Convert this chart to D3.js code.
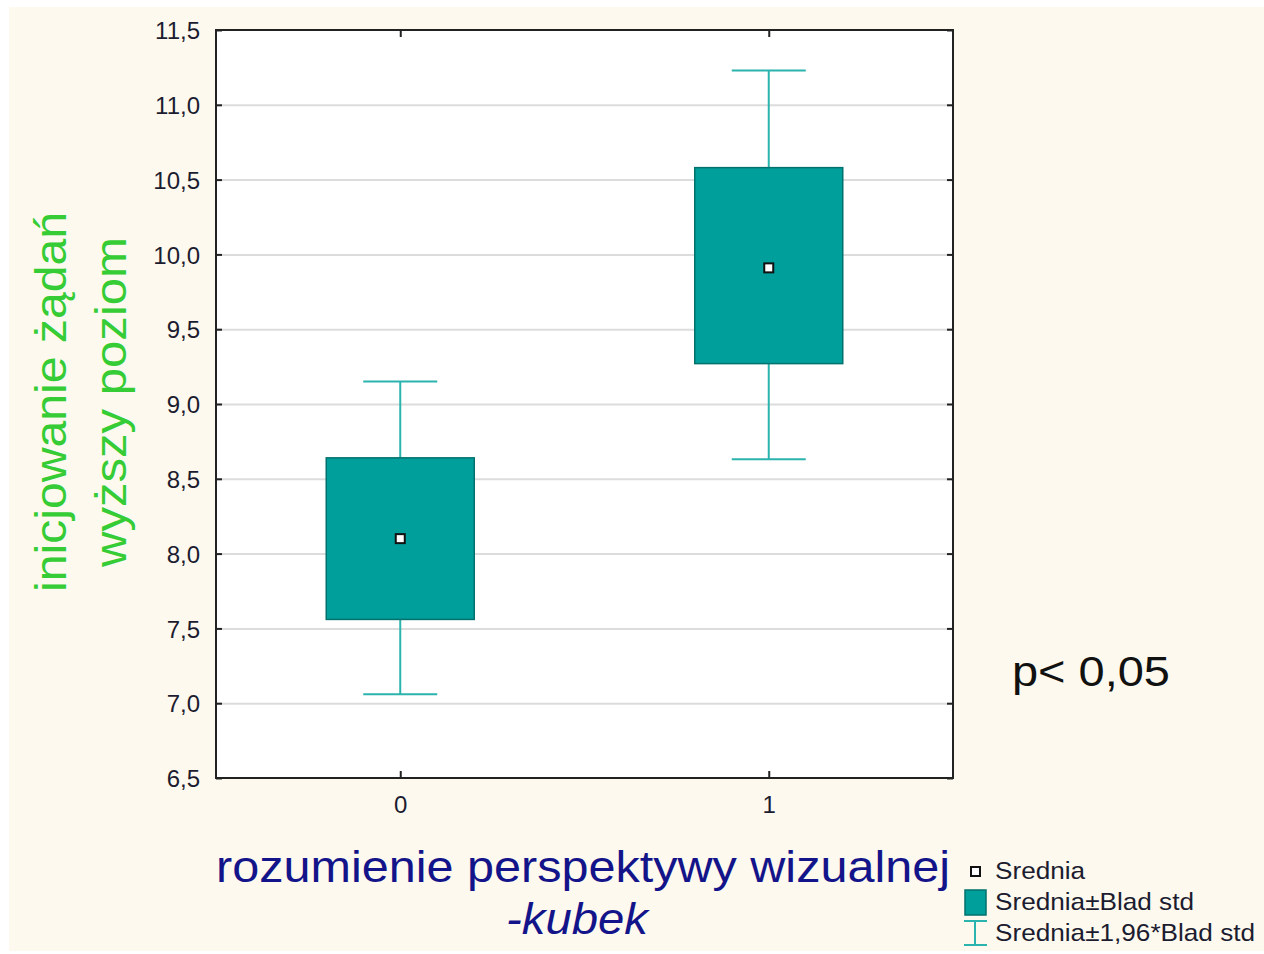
<!DOCTYPE html>
<html>
<head>
<meta charset="utf-8">
<script src="https://cdn.jsdelivr.net/npm/d3@7"></script>
<style>
  body { margin: 0; background: #ffffff; }
  svg { display: block; }
</style>
</head>
<body>
<svg id="chart" width="1264" height="954"></svg>
<script>
// values
var groups = ["0", "1"];
var means = [8.10, 9.91];
var boxLow = [7.56, 9.27];    // srednia - blad std
var boxHigh = [8.64, 10.58];  // srednia + blad std
var whiskLow = [7.06, 8.63];  // srednia - 1,96*blad std
var whiskHigh = [9.15, 11.23];
var yTicks = [6.5, 7.0, 7.5, 8.0, 8.5, 9.0, 9.5, 10.0, 10.5, 11.0, 11.5];
var legendLabels = ["Srednia", "Srednia\u00b1Blad std", "Srednia\u00b11,96*Blad std"];

var teal = "#009f9b", tealDark = "#00716d", tealLight = "#2bb3ae";
var fontFam = "Liberation Sans, Arial, sans-serif";

var svg = d3.select("#chart");
var pLeft = 216, pRight = 953, pTop = 30, pBottom = 778;

var pl = d3.formatLocale({decimal: ",", thousands: " ", grouping: [3], currency: ["", ""]});
var fmt = pl.format(".1f");

var x = d3.scalePoint().domain(groups).range([pLeft, pRight]).padding(0.5);
var y = d3.scaleLinear().domain([6.5, 11.5]).range([pBottom, pTop]);

// background
svg.append("rect").attr("x", 9).attr("y", 7).attr("width", 1255).attr("height", 944)
    .attr("fill", "#fdf9ee");
svg.append("rect").attr("x", pLeft).attr("y", pTop).attr("width", pRight - pLeft).attr("height", pBottom - pTop)
    .attr("fill", "#ffffff");

// grid
svg.append("g")
    .attr("transform", "translate(" + pLeft + ",0)")
    .call(d3.axisLeft(y).tickValues(yTicks.slice(1, -1)).tickSize(-(pRight - pLeft)).tickFormat(""))
    .call(function(g) { g.select(".domain").remove(); })
    .selectAll("line").attr("class", "grid").attr("stroke", "#dcdcdc").attr("stroke-width", 2);

// whiskers
var w = svg.append("g").attr("class", "whiskers");
groups.forEach(function(gr, i) {
    var cx = x(gr);
    w.append("line").attr("x1", cx).attr("x2", cx).attr("y1", y(whiskHigh[i])).attr("y2", y(boxHigh[i]))
        .attr("stroke", tealLight).attr("stroke-width", 2);
    w.append("line").attr("x1", cx).attr("x2", cx).attr("y1", y(boxLow[i])).attr("y2", y(whiskLow[i]))
        .attr("stroke", tealLight).attr("stroke-width", 2);
    [whiskHigh[i], whiskLow[i]].forEach(function(v) {
        w.append("line").attr("x1", cx - 37).attr("x2", cx + 37).attr("y1", y(v)).attr("y2", y(v))
            .attr("stroke", tealLight).attr("stroke-width", 2);
    });
});

// boxes
svg.append("g").selectAll("rect")
    .data(groups)
    .enter().append("rect")
    .attr("x", function(d) { return x(d) - 74; })
    .attr("width", 148)
    .attr("y", function(d, i) { return y(boxHigh[i]); })
    .attr("height", function(d, i) { return y(boxLow[i]) - y(boxHigh[i]); })
    .attr("fill", teal)
    .attr("stroke", tealDark)
    .attr("stroke-width", 1.5);

// means
svg.append("g").selectAll("rect")
    .data(groups)
    .enter().append("rect")
    .attr("x", function(d) { return x(d) - 4.5; })
    .attr("y", function(d, i) { return y(means[i]) - 4.5; })
    .attr("width", 9).attr("height", 9)
    .attr("fill", "#ffffff").attr("stroke", "#111111").attr("stroke-width", 2);

// axes, ticks pointing inward
var yAxis = svg.append("g").attr("class", "ax")
    .attr("transform", "translate(" + pLeft + ",0)")
    .call(d3.axisLeft(y).tickValues(yTicks).tickSize(-6).tickPadding(16).tickFormat(fmt));
svg.append("g").attr("class", "ax")
    .attr("transform", "translate(" + pRight + ",0)")
    .call(d3.axisRight(y).tickValues(yTicks).tickSize(-6).tickFormat(""));
svg.append("g").attr("class", "ax")
    .attr("transform", "translate(0," + pBottom + ")")
    .call(d3.axisBottom(x).tickSize(-7).tickPadding(18));
svg.append("g").attr("class", "ax")
    .attr("transform", "translate(0," + pTop + ")")
    .call(d3.axisTop(x).tickSize(-7).tickFormat(""));

svg.selectAll(".domain").remove();
svg.selectAll(".ax .tick line").attr("stroke", "#222").attr("stroke-width", 2);
svg.selectAll(".ax .tick text").attr("font-family", fontFam).attr("font-size", 24).attr("fill", "#1c1c30");
yAxis.selectAll(".tick text").attr("dy", "0.36em");

svg.append("rect").attr("x", pLeft).attr("y", pTop).attr("width", pRight - pLeft).attr("height", pBottom - pTop)
    .attr("fill", "none").attr("stroke", "#222").attr("stroke-width", 2);

// axis titles
var yl = svg.append("text")
    .attr("transform", "translate(0,402) rotate(-90)")
    .attr("text-anchor", "middle")
    .attr("font-family", fontFam).attr("font-size", 44).attr("fill", "#35cc35")
    .attr("lengthAdjust", "spacingAndGlyphs");
yl.append("tspan").attr("x", 0).attr("y", 66).attr("textLength", 380).attr("lengthAdjust", "spacingAndGlyphs")
    .text("inicjowanie żądań");
yl.append("tspan").attr("x", 0).attr("y", 126).attr("textLength", 330).attr("lengthAdjust", "spacingAndGlyphs")
    .text("wyższy poziom");

svg.append("text").attr("x", 583).attr("y", 882).attr("text-anchor", "middle")
    .attr("font-family", fontFam).attr("font-size", 44).attr("fill", "#14148a")
    .attr("textLength", 734).attr("lengthAdjust", "spacingAndGlyphs")
    .text("rozumienie perspektywy wizualnej");
svg.append("text").attr("x", 577).attr("y", 934).attr("text-anchor", "middle")
    .attr("font-family", fontFam).attr("font-size", 44).attr("font-style", "italic").attr("fill", "#14148a")
    .attr("textLength", 142).attr("lengthAdjust", "spacingAndGlyphs")
    .text("-kubek");

svg.append("text").attr("x", 1012).attr("y", 686)
    .attr("font-family", fontFam).attr("font-size", 42).attr("fill", "#111")
    .attr("textLength", 158).attr("lengthAdjust", "spacingAndGlyphs")
    .text("p< 0,05");

// legend
var lg = svg.append("g").attr("font-family", fontFam).attr("font-size", 24).attr("fill", "#1c1c30");
lg.append("rect").attr("x", 971).attr("y", 867).attr("width", 9).attr("height", 9)
    .attr("fill", "#fff").attr("stroke", "#111").attr("stroke-width", 2);
lg.append("rect").attr("x", 965).attr("y", 890).attr("width", 21).attr("height", 25)
    .attr("fill", teal).attr("stroke", tealDark).attr("stroke-width", 1.5);
lg.append("line").attr("x1", 975).attr("x2", 975).attr("y1", 921).attr("y2", 945)
    .attr("stroke", tealLight).attr("stroke-width", 2);
[921, 945].forEach(function(v) {
    lg.append("line").attr("x1", 964).attr("x2", 987).attr("y1", v).attr("y2", v)
        .attr("stroke", tealLight).attr("stroke-width", 2);
});
lg.append("g").attr("transform", "translate(995,0) scale(1.09,1)")
    .selectAll("text")
    .data(legendLabels)
    .enter().append("text")
    .attr("x", 0)
    .attr("y", function(d, i) { return 879 + i * 31; })
    .text(function(d) { return d; });
</script>
</body>
</html>
